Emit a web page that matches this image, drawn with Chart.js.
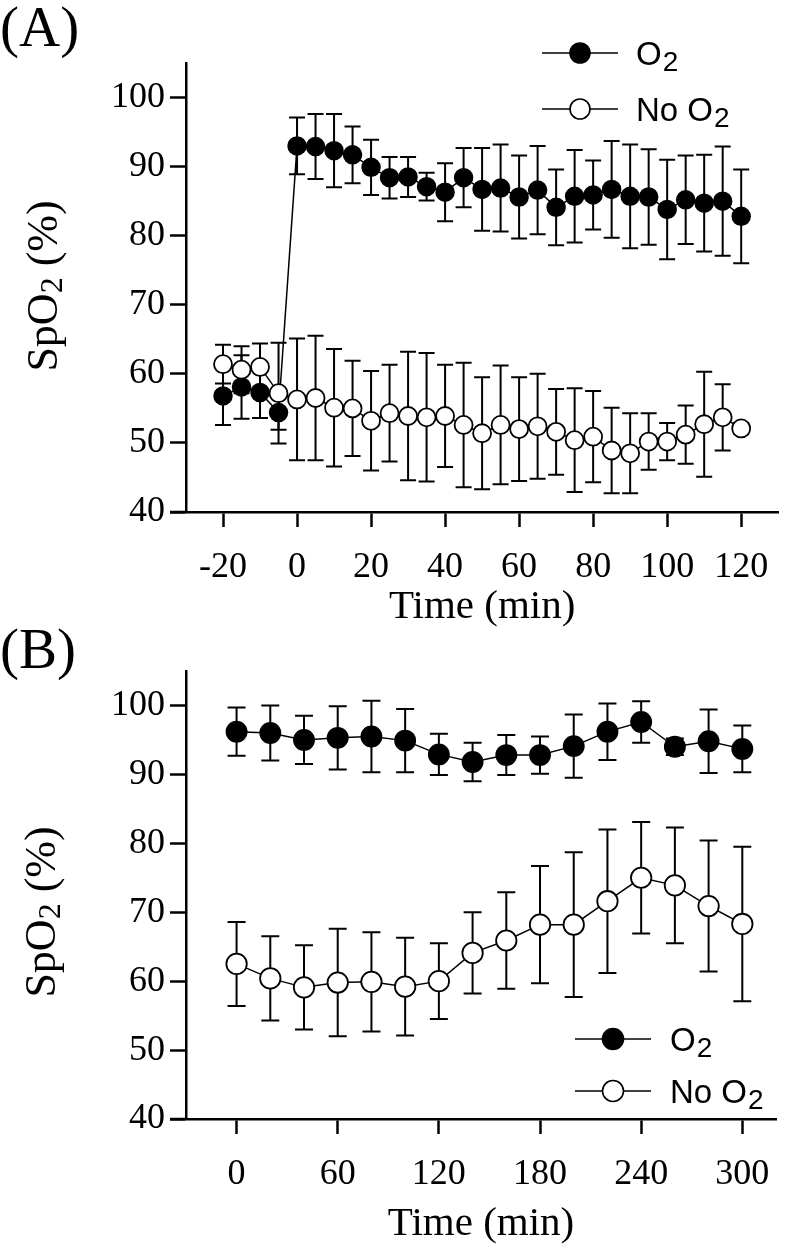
<!DOCTYPE html>
<html><head><meta charset="utf-8">
<script src="https://cdn.jsdelivr.net/npm/chart.js@4/dist/chart.umd.min.js"></script>
<style>
html,body{margin:0;padding:0;background:#fff;}
#wrap{position:relative;width:789px;height:1253px;background:#fff;overflow:hidden;}
canvas{position:absolute;left:0;}
</style></head><body>
<div id="wrap">
<canvas id="cA" width="789" height="630" style="top:0"></canvas>
<canvas id="cB" width="789" height="653" style="top:600px"></canvas>
</div>
<script>
// ---------- Panel A data ----------
const timeA = [-20,-15,-10,-5,0,5,10,15,20,25,30,35,40,45,50,55,60,65,70,75,80,85,90,95,100,105,110,115,120];
const o2MeanA = [56.8,58.1,57.3,54.4,93.0,92.9,92.3,91.7,89.9,88.4,88.5,87.1,86.3,88.4,86.7,86.9,85.6,86.6,84.1,85.7,85.9,86.7,85.7,85.6,83.8,85.2,84.7,85.0,82.8];
const o2SdA   = [4.2,4.6,3.7,2.5,4.1,4.7,5.3,4.1,4.0,3.0,2.9,2.0,4.2,4.3,6.0,6.3,6.0,6.4,5.5,6.7,5.0,7.0,7.5,6.9,7.2,6.4,7.0,7.9,6.8];
const noMeanA = [61.4,60.6,61.0,57.2,56.3,56.5,55.1,55.0,53.2,54.3,53.9,53.7,53.9,52.6,51.4,52.6,52.0,52.4,51.6,50.4,50.9,48.9,48.5,50.2,50.2,51.2,52.7,53.7,52.1];
const noSdA   = [2.8,3.4,3.4,7.3,8.8,9.0,8.5,6.9,7.2,7.0,9.3,9.3,7.4,9.0,8.1,8.6,7.5,7.6,6.2,7.5,6.6,6.2,5.8,4.1,2.7,4.2,7.6,4.8,0.8];
const xTicksA = [-20,0,20,40,60,80,100,120];

// ---------- Panel B data ----------
const timeB = [0,20,40,60,80,100,120,140,160,180,200,220,240,260,280,300];
const o2MeanB = [96.2,96.0,95.0,95.3,95.5,94.9,92.9,91.8,92.8,92.8,94.1,96.2,97.6,94.0,94.8,93.7];
const o2SdB   = [3.5,4.0,3.5,4.6,5.2,4.6,3.0,2.8,2.9,2.7,4.6,4.1,3.0,1.2,4.6,3.4];
const noMeanB = [62.5,60.4,59.1,59.8,59.9,59.2,60.0,64.1,65.9,68.2,68.2,71.6,75.0,73.9,70.9,68.3];
const noSdB   = [6.1,6.1,6.1,7.8,7.2,7.1,5.5,5.9,7.0,8.5,10.5,10.4,8.1,8.4,9.5,11.2];
const xTicksB = [0,60,120,180,240,300];

// ---------- shared ----------
const yTicks = [40,50,60,70,80,90,100];
const seriesLabels = [['O','2'],['No O','2']];
const yTitleParts = ['SpO','2',' (%)'];
const xTitle = 'Time (min)';

const SERIF = '"Liberation Serif","Times New Roman",serif';
const SANS = '"Liberation Sans",Arial,sans-serif';

const decor = {
  id: 'decor',
  beforeDatasetsDraw(chart, args, o) {
    const ctx = chart.ctx, ys = chart.scales.y;
    ctx.save();
    ctx.strokeStyle = '#000';
    ctx.lineWidth = o.errWidth;
    chart.data.datasets.forEach((ds, di) => {
      const meta = chart.getDatasetMeta(di);
      meta.data.forEach((pt, i) => {
        const m = ds.data[i].y, sd = ds.sd[i];
        const yt = ys.getPixelForValue(m + sd), yb = ys.getPixelForValue(m - sd);
        ctx.beginPath();
        ctx.moveTo(pt.x, yt); ctx.lineTo(pt.x, yb);
        ctx.moveTo(pt.x - o.cap, yt); ctx.lineTo(pt.x + o.cap, yt);
        ctx.moveTo(pt.x - o.cap, yb); ctx.lineTo(pt.x + o.cap, yb);
        ctx.stroke();
      });
    });
    ctx.restore();
  },
  afterDraw(chart, args, o) {
    const ctx = chart.ctx, ca = chart.chartArea;
    ctx.save();
    // x-axis line extends a little left of the y-axis
    ctx.strokeStyle = '#000';
    ctx.lineWidth = 2.5;
    ctx.beginPath();
    ctx.moveTo(ca.left - 16, ca.bottom);
    ctx.lineTo(ca.left, ca.bottom);
    ctx.stroke();

    ctx.fillStyle = '#000';
    // panel label
    ctx.font = '57px ' + SERIF;
    ctx.textAlign = 'left';
    ctx.textBaseline = 'alphabetic';
    ctx.fillText(o.panel, 0, o.panelY);

    // x title
    ctx.font = '41px ' + SERIF;
    ctx.textAlign = 'center';
    ctx.textBaseline = 'middle';
    ctx.fillText(xTitle, (ca.left + ca.right) / 2, o.xTitleY);

    // y title (rotated, with subscript)
    ctx.save();
    ctx.translate(o.yTitleX, o.yTitleY);
    ctx.rotate(-Math.PI / 2);
    ctx.textAlign = 'left';
    ctx.textBaseline = 'middle';
    const big = '44px ' + SERIF, small = '32px ' + SERIF;
    ctx.font = big; const w0 = ctx.measureText(yTitleParts[0]).width;
    ctx.font = small; const w1 = ctx.measureText(yTitleParts[1]).width;
    ctx.font = big; const w2 = ctx.measureText(yTitleParts[2]).width;
    let x = -(w0 + w1 + w2) / 2;
    ctx.font = big; ctx.fillText(yTitleParts[0], x, 0); x += w0;
    ctx.font = small; ctx.fillText(yTitleParts[1], x, 9); x += w1;
    ctx.font = big; ctx.fillText(yTitleParts[2], x, 0);
    ctx.restore();

    // legend
    const L = o.legend;
    chart.data.datasets.forEach((ds, k) => {
      const y = L.y + k * L.dy;
      ctx.strokeStyle = '#000';
      ctx.lineWidth = 1.5;
      ctx.beginPath();
      ctx.moveTo(L.x - L.half, y); ctx.lineTo(L.x + L.half, y);
      ctx.stroke();
      ctx.beginPath();
      ctx.arc(L.x, y, L.r, 0, Math.PI * 2);
      ctx.fillStyle = ds.pointBackgroundColor;
      ctx.fill();
      ctx.lineWidth = 1.6;
      ctx.stroke();
      ctx.fillStyle = '#000';
      ctx.textAlign = 'left';
      ctx.textBaseline = 'alphabetic';
      const parts = seriesLabels[k];
      ctx.font = '33px ' + SANS;
      const base = y + 12;
      ctx.fillText(parts[0], L.tx, base);
      const w = ctx.measureText(parts[0]).width;
      ctx.font = '28px ' + SANS;
      ctx.fillText(parts[1], L.tx + w + 1, base + 6);
    });
    ctx.restore();
  }
};

function makeChart(id, time, o2M, o2S, noM, noS, xMin, xMax, xTicks, geo) {
  const canvas = document.getElementById(id);
  const H = canvas.height;
  return new Chart(canvas, {
    type: 'line',
    data: {
      datasets: [
        { label: 'O2', data: time.map((t, i) => ({x: t, y: o2M[i]})), sd: o2S,
          borderColor: '#000', borderWidth: 1.5, fill: false, tension: 0,
          pointRadius: geo.r, pointBorderWidth: 1.5, pointBackgroundColor: '#000',
          pointBorderColor: '#000', order: 1 },
        { label: 'No O2', data: time.map((t, i) => ({x: t, y: noM[i]})), sd: noS,
          borderColor: '#000', borderWidth: 1.5, fill: false, tension: 0,
          pointRadius: geo.r, pointBorderWidth: 1.8, pointBackgroundColor: '#fff',
          pointBorderColor: '#000', order: 0 }
      ]
    },
    options: {
      responsive: false, animation: false, devicePixelRatio: 1,
      clip: false,
      layout: { padding: { top: geo.top, right: 4, left: 0, bottom: 0 } },
      plugins: {
        legend: { display: false }, tooltip: { enabled: false },
        decor: geo.decor
      },
      scales: {
        x: {
          type: 'linear', min: xMin, max: xMax,
          afterBuildTicks: a => { a.ticks = xTicks.map(v => ({value: v})); },
          afterFit: s => { s.height = H - geo.bottom; },
          border: { display: true, color: '#000', width: 2.5 },
          grid: { display: true, drawOnChartArea: false, drawTicks: true, tickLength: 15, tickWidth: 2.5, tickColor: '#000', color: '#000' },
          ticks: { autoSkip: false, maxRotation: 0, minRotation: 0, padding: 19, color: '#000',
                   font: { family: SERIF, size: 36 }, callback: v => String(v) }
        },
        y: {
          type: 'linear', min: 40, max: 105,
          afterBuildTicks: a => { a.ticks = yTicks.map(v => ({value: v})); },
          afterFit: s => { s.width = 186; },
          border: { display: true, color: '#000', width: 2.5 },
          grid: { display: true, drawOnChartArea: false, drawTicks: true, tickLength: 16, tickWidth: 2.5, tickColor: '#000', color: '#000' },
          ticks: { autoSkip: false, padding: 5, color: '#000',
                   font: { family: SERIF, size: 36 }, callback: v => String(v) }
        }
      }
    },
    plugins: [decor]
  });
}

makeChart('cA', timeA, o2MeanA, o2SdA, noMeanA, noSdA, -30, 130, xTicksA, {
  r: 9, top: 63, bottom: 512,
  decor: { errWidth: 2, cap: 8, panel: '(A)', panelY: 46, xTitleY: 607,
           yTitleX: 45, yTitleY: 286,
           legend: { x: 580, half: 38, y: 53, dy: 56, r: 10, tx: 636 } }
});
makeChart('cB', timeB, o2MeanB, o2SdB, noMeanB, noSdB, -30, 320, xTicksB, {
  r: 10.2, top: 71, bottom: 519,
  decor: { errWidth: 2, cap: 9, panel: '(B)', panelY: 68, xTitleY: 624,
           yTitleX: 43, yTitleY: 312,
           legend: { x: 613, half: 38, y: 439, dy: 52, r: 10.5, tx: 670 } }
});
</script>
</body></html>
